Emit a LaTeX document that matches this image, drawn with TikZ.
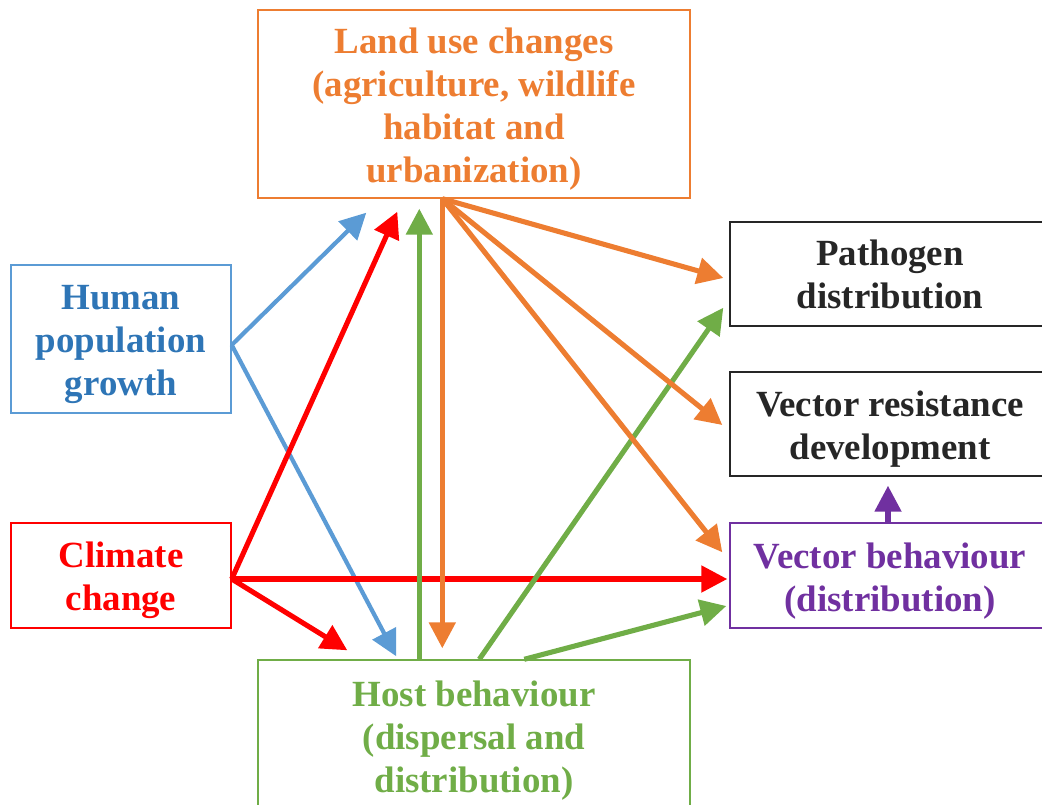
\documentclass[tikz,border=0pt]{standalone}
\usepackage{fontspec}
\setmainfont{Liberation Serif}
\usetikzlibrary{arrows.meta,calc}
\definecolor{landcol}{HTML}{ED7D31}
\definecolor{humanline}{HTML}{5B9BD5}
\definecolor{humantext}{HTML}{2E75B6}
\definecolor{climcol}{HTML}{FF0000}
\definecolor{hostcol}{HTML}{70AD47}
\definecolor{vbcol}{HTML}{7030A0}
\definecolor{darkcol}{HTML}{262626}
\newcommand{\topgap}{\rule{0pt}{20.5pt}}
\tikzset{
    box/.style={draw, line width=0.8pt, align=center, inner sep=0pt,
        font=\fontsize{21}{24.5}\selectfont\bfseries},
    link/.style={line width=2.9pt, -{Triangle[length=5.2mm,width=5.2mm]}},
}
\begin{document}
\begin{tikzpicture}[x=0.2mm, y=-0.2mm]
    \useasboundingbox (0,0) rectangle (1042,805);
    \clip (0,0) rectangle (1042,805);
    \node[box, landcol, minimum width=86.4mm, minimum height=37.6mm] (land) at (474,104)
        {\topgap Land use changes\\(agriculture, wildlife\\habitat and\\urbanization)};
    \node[box, humanline, text=humantext, minimum width=44mm, minimum height=29.6mm] (human) at (121,339)
        {\topgap Human\\population\\growth};
    \node[box, climcol, minimum width=44mm, minimum height=21mm] (climate) at (121,575.5)
        {\topgap Climate\\change};
    \node[box, hostcol, minimum width=86.4mm, minimum height=30mm] (host) at (474,735)
        {\topgap Host behaviour\\(dispersal and\\distribution)};
    \node[box, darkcol, minimum width=64mm, minimum height=20.8mm] (pathogen) at (890,274)
        {Pathogen\\distribution};
    \node[box, darkcol, minimum width=64mm, minimum height=20.8mm] (resist) at (890,424)
        {\topgap Vector resistance\\development};
    \node[box, vbcol, minimum width=64mm, minimum height=21mm] (vecbeh) at (890,575.5)
        {\topgap Vector behaviour\\(distribution)};

    \coordinate (hfork) at ($(human.east)+(0,6)$);
    \draw[link, humanline, line width=2.4pt] (hfork) -- ($(land.south west)+(109,14)$);
    \draw[link, humanline, line width=2.4pt] (hfork) -- ($(host.north west)+(139,-3)$);

    \coordinate (cfork) at ($(climate.east)+(0,3.5)$);
    \draw[link, climcol] (cfork) -- ($(land.south west)+(140,13)$);
    \draw[link, climcol] (cfork) -- ($(vecbeh.west)+(-2,3.5)$);
    \draw[link, climcol] (cfork) -- ($(host.north west)+(90,-9)$);

    \draw[link, hostcol] ($(host.north west)+(162,0)$) -- ($(land.south west)+(162,10)$);
    \draw[link, hostcol] ($(host.north west)+(222,0)$) -- ($(pathogen.south west)+(-6,-19)$);
    \draw[link, hostcol] ($(host.north west)+(267,0)$) -- ($(vecbeh.west)+(-3,30.5)$);

    \coordinate (fan) at ($(land.south west)+(185,0)$);
    \draw[link, landcol] (fan) -- ($(host.north west)+(185,-11)$);
    \draw[link, landcol] (fan) -- ($(pathogen.west)+(-6,4)$);
    \draw[link, landcol] (fan) -- ($(resist.west)+(-7,1)$);
    \draw[link, landcol] (fan) -- ($(vecbeh.north west)+(-7,30)$);

    \draw[link, vbcol] ($(vecbeh.north)+(-2,0)$) -- ($(resist.south)+(-2,9)$);
\end{tikzpicture}
\end{document}
